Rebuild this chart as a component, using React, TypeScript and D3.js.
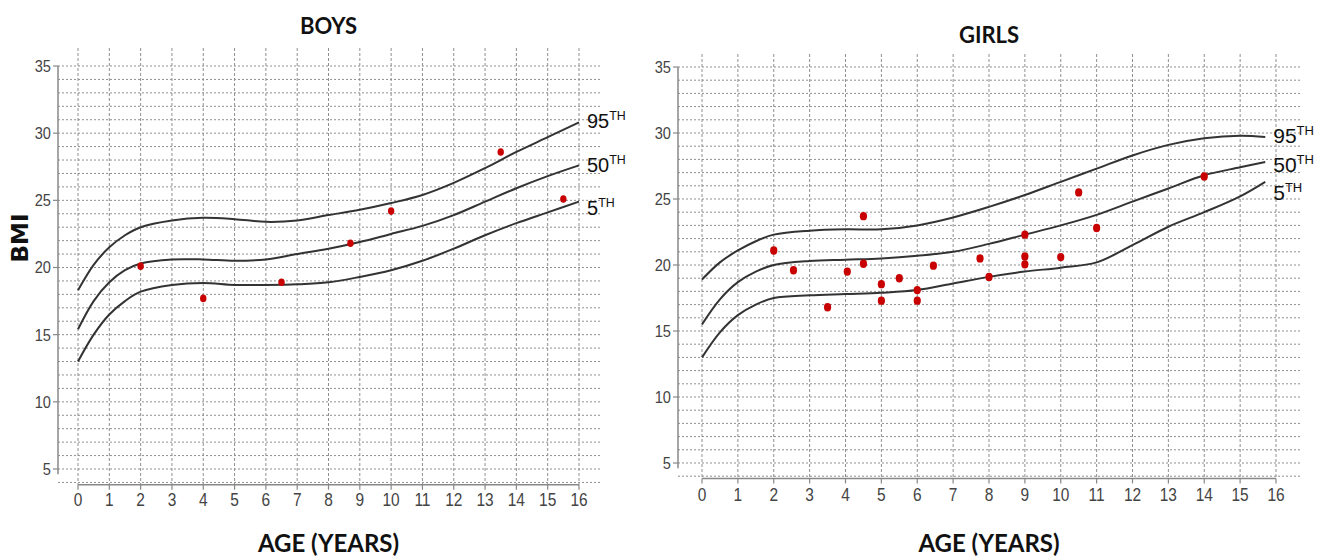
import React from "react";
import * as d3 from "d3";

// percentile curves (age in years, BMI)
const boysCurveAges = [0, 0.5, 1, 1.5, 2, 3, 4, 5, 6, 7, 8, 9, 10, 11, 12, 13, 14, 15, 16];
const boysP95 = [18.3, 20.2, 21.5, 22.4, 23.0, 23.5, 23.7, 23.6, 23.4, 23.5, 23.9, 24.3, 24.8, 25.4, 26.3, 27.4, 28.6, 29.7, 30.8];
const boysP50 = [15.4, 17.5, 18.9, 19.8, 20.3, 20.6, 20.6, 20.5, 20.6, 21.0, 21.4, 21.9, 22.5, 23.1, 23.9, 24.9, 25.9, 26.8, 27.6];
const boysP5 = [13.0, 15.0, 16.5, 17.5, 18.2, 18.7, 18.85, 18.7, 18.7, 18.75, 18.9, 19.3, 19.8, 20.5, 21.4, 22.4, 23.3, 24.1, 24.9];

const girlsCurveAges = [0, 0.5, 1, 1.5, 2, 3, 4, 5, 6, 7, 8, 9, 10, 11, 12, 13, 14, 15, 15.7];
const girlsP95 = [18.9, 20.2, 21.1, 21.8, 22.3, 22.6, 22.7, 22.7, 23.0, 23.6, 24.4, 25.3, 26.3, 27.3, 28.3, 29.1, 29.6, 29.8, 29.7];
const girlsP50 = [15.5, 17.4, 18.7, 19.5, 20.0, 20.3, 20.4, 20.5, 20.7, 21.0, 21.6, 22.3, 23.0, 23.8, 24.8, 25.8, 26.8, 27.4, 27.8];
const girlsP5 = [13.0, 14.9, 16.2, 17.0, 17.5, 17.7, 17.8, 17.9, 18.1, 18.6, 19.1, 19.5, 19.8, 20.2, 21.5, 22.9, 24.0, 25.2, 26.3];

// patients
const boysAge = [2, 4, 6.5, 8.7, 10, 13.5, 15.5];
const boysBmi = [20.1, 17.7, 18.9, 21.8, 24.2, 28.6, 25.1];

const girlsAge = [2, 2.55, 3.5, 4.05, 4.5, 4.5, 5, 5, 5.5, 6, 6, 6.45, 7.75, 8, 9, 9, 9, 10, 10.5, 11, 14];
const girlsBmi = [21.1, 19.6, 16.8, 19.5, 23.7, 20.1, 18.55, 17.3, 19.0, 18.1, 17.3, 19.95, 20.5, 19.1, 22.3, 20.65, 20.05, 20.6, 25.5, 22.8, 26.7];

const xTicks = d3.range(0, 17);
const yLabelTicks = [5, 10, 15, 20, 25, 30, 35];
const gridRows = d3.range(4, 36);
const percentileNames = ["95", "50", "5"];

const LABEL_FONT = "'Liberation Sans', Arial, sans-serif";
const TITLE_FONT = "Lato, 'Open Sans', sans-serif";

type PanelProps = {
  title: string;
  titleY: number;
  axisX: number;
  x0: number;
  x16: number;
  y35: number;
  y5: number;
  gridRight: number;
  gridTop: number;
  ages: number[];
  curves: number[][];
  dotAge: number[];
  dotBmi: number[];
  dotR: number;
  labelSize: number;
  labelYs: number[];
  tickLabelY: number;
};

function Panel(p: PanelProps) {
  const x = d3.scaleLinear().domain([0, 16]).range([p.x0, p.x16]);
  const y = d3.scaleLinear().domain([5, 35]).range([p.y5, p.y35]);
  const axisY = y(3.83);
  const line = d3
    .line<[number, number]>()
    .x((d) => x(d[0]))
    .y((d) => y(d[1]))
    .curve(d3.curveCatmullRom.alpha(0.5));
  const endAge = p.ages[p.ages.length - 1];
  const cx = (p.x0 + p.x16) / 2;

  return (
    <g>
      <text x={cx} y={p.titleY} textAnchor="middle" fontFamily={TITLE_FONT} fontWeight="bold" fontSize={22} fill="#111">
        {p.title}
      </text>
      {/* horizontal grid */}
      {gridRows.map((v) => (
        <line key={"h" + v} x1={p.axisX} x2={p.gridRight} y1={y(v)} y2={y(v)} stroke="#8f8f8f" strokeWidth={1} strokeDasharray="2,2" />
      ))}
      {/* vertical grid */}
      {xTicks.map((v) => (
        <line key={"v" + v} x1={x(v)} x2={x(v)} y1={p.gridTop} y2={axisY} stroke="#8f8f8f" strokeWidth={1} strokeDasharray="3,2" />
      ))}
      {/* y axis */}
      <line x1={p.axisX} x2={p.axisX} y1={y(35)} y2={y(4.6)} stroke="#888" strokeWidth={1.5} />
      {yLabelTicks.map((v) => (
        <g key={"yt" + v}>
          <line x1={p.axisX - 5} x2={p.axisX} y1={y(v)} y2={y(v)} stroke="#888" strokeWidth={1.2} />
          <text
            x={p.axisX - 7}
            y={y(v) + 6}
            textAnchor="end"
            fontFamily={LABEL_FONT}
            fontSize={17}
            fill="#444"
            transform={`translate(${p.axisX - 7},0) scale(0.86,1) translate(${-(p.axisX - 7)},0)`}
          >
            {v}
          </text>
        </g>
      ))}
      {/* x axis */}
      <line x1={x(0)} x2={x(16)} y1={axisY} y2={axisY} stroke="#888" strokeWidth={1.5} />
      {xTicks.map((v) => (
        <g key={"xt" + v}>
          <line x1={x(v)} x2={x(v)} y1={axisY} y2={axisY + 5} stroke="#888" strokeWidth={1.2} />
          <text
            x={x(v)}
            y={p.tickLabelY}
            textAnchor="middle"
            fontFamily={LABEL_FONT}
            fontSize={18}
            fill="#444"
            transform={`translate(${x(v)},0) scale(0.86,1) translate(${-x(v)},0)`}
          >
            {v}
          </text>
        </g>
      ))}
      {/* percentile curves */}
      {p.curves.map((c, i) => (
        <path
          key={"c" + i}
          d={line(p.ages.map((a, j) => [a, c[j]] as [number, number])) || ""}
          fill="none"
          stroke="#333"
          strokeWidth={2}
        />
      ))}
      {percentileNames.map((n, i) => (
        <text key={"l" + n} x={x(endAge) + 8} y={p.labelYs[i]} fontFamily={LABEL_FONT} fontSize={p.labelSize} fill="#111">
          {n}
          <tspan fontSize={p.labelSize * 0.62} dy={-p.labelSize * 0.38}>
            TH
          </tspan>
        </text>
      ))}
      {/* patients */}
      {p.dotAge.map((a, i) => (
        <ellipse key={"d" + i} cx={x(a)} cy={y(p.dotBmi[i])} rx={p.dotR} ry={p.dotR + 0.6} fill="#c80000" />
      ))}
      <text x={cx} y={552} textAnchor="middle" fontFamily={TITLE_FONT} fontWeight="bold" fontSize={24} fill="#111">
        AGE (YEARS)
      </text>
    </g>
  );
}

export default function App() {
  return (
    <svg width={1321} height={558} style={{ position: "absolute", left: 0, top: 0, background: "#fff" }}>
      <rect width={1321} height={558} fill="#fff" />
      <text
        transform="translate(28,238) rotate(-90)"
        textAnchor="middle"
        fontFamily="'DejaVu Sans', sans-serif"
        fontWeight="bold"
        fontSize={23}
        fill="#111"
      >
        BMI
      </text>
      <Panel
        title="BOYS"
        titleY={34}
        axisX={58}
        x0={78}
        x16={579}
        y35={66}
        y5={469}
        gridRight={600}
        gridTop={48}
        ages={boysCurveAges}
        curves={[boysP95, boysP50, boysP5]}
        dotAge={boysAge}
        dotBmi={boysBmi}
        dotR={3.2}
        labelSize={20}
        labelYs={[128, 172, 215]}
        tickLabelY={506}
      />
      <Panel
        title="GIRLS"
        titleY={43}
        axisX={678}
        x0={702}
        x16={1276}
        y35={67}
        y5={463}
        gridRight={1300}
        gridTop={54}
        ages={girlsCurveAges}
        curves={[girlsP95, girlsP50, girlsP5]}
        dotAge={girlsAge}
        dotBmi={girlsBmi}
        dotR={3.6}
        labelSize={21}
        labelYs={[143, 172, 200]}
        tickLabelY={501}
      />
    </svg>
  );
}
